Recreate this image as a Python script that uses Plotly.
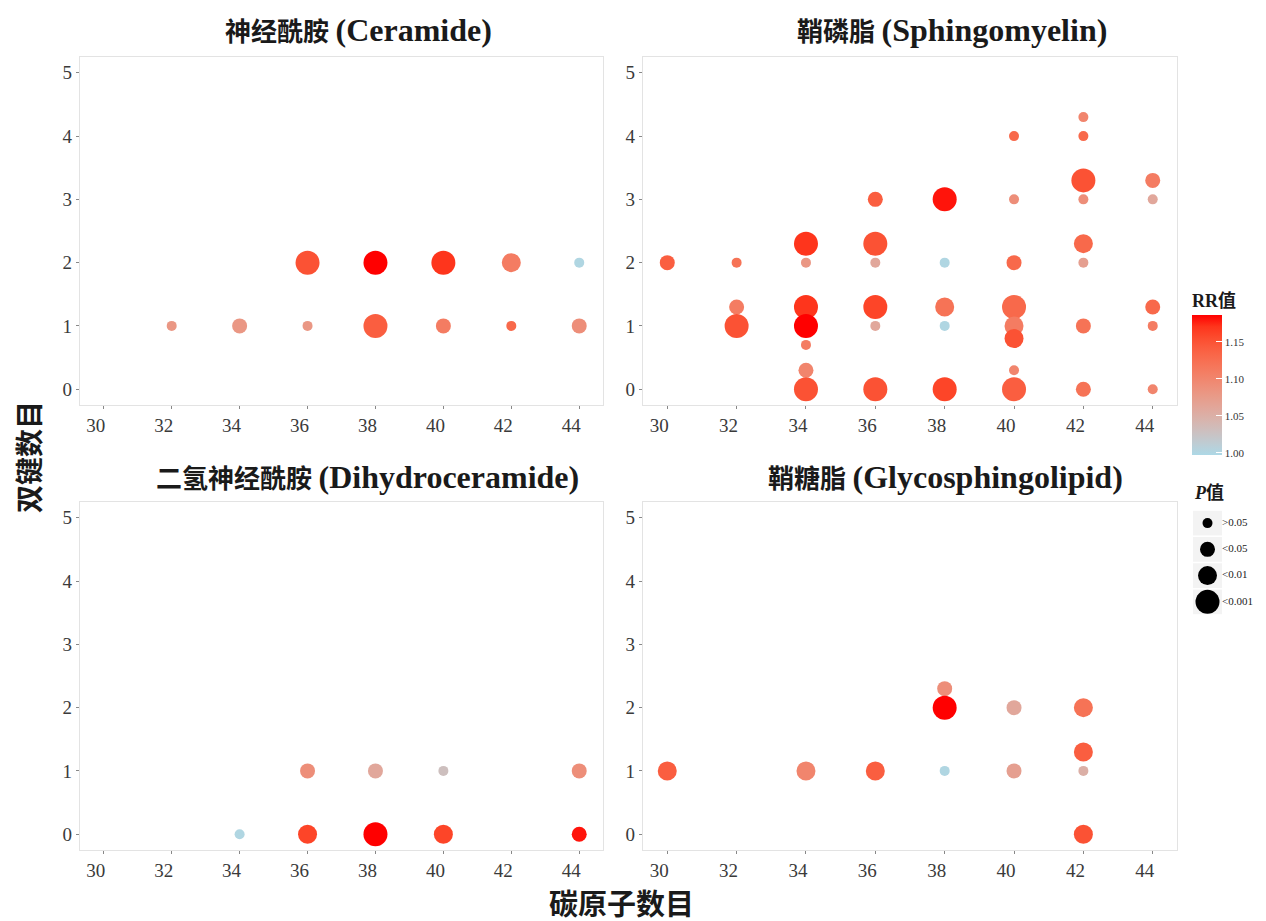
import numpy as np
import plotly.graph_objects as go

# ---------------- data ----------------
p_levels = [">0.05", "<0.05", "<0.01", "<0.001"]
p_sizes = [10, 15, 19, 24]

cer_c = [36, 38, 40, 42, 44, 32, 34, 36, 38, 40, 42, 44]
cer_db = [2, 2, 2, 2, 2, 1, 1, 1, 1, 1, 1, 1]
cer_rr = [1.15, 1.186, 1.17, 1.11, 1.00, 1.08, 1.08, 1.08, 1.14, 1.11, 1.13, 1.09]
cer_p = ["<0.001", "<0.001", "<0.001", "<0.01", ">0.05", ">0.05", "<0.05", ">0.05", "<0.001", "<0.05", ">0.05", "<0.05"]

sm_c = [30, 32, 32, 32, 34, 34, 34, 34, 34, 34, 34,
        36, 36, 36, 36, 36, 36, 38, 38, 38, 38, 38,
        40, 40, 40, 40, 40, 40, 40, 40,
        42, 42, 42, 42, 42, 42, 42, 42,
        44, 44, 44, 44, 44]
sm_db = [2, 2, 1.3, 1, 2.3, 2, 1.3, 1, 0.7, 0.3, 0,
         3, 2.3, 2, 1.3, 1, 0, 3, 2, 1.3, 1, 0,
         4, 3, 2, 1.3, 1, 0.8, 0.3, 0,
         4.3, 4, 3.3, 3, 2.3, 2, 1, 0,
         3.3, 3, 1.3, 1, 0]
sm_rr = [1.14, 1.12, 1.11, 1.15, 1.17, 1.08, 1.17, 1.186, 1.11, 1.10, 1.15,
         1.14, 1.15, 1.06, 1.16, 1.06, 1.15, 1.18, 1.00, 1.12, 1.00, 1.16,
         1.13, 1.09, 1.13, 1.13, 1.11, 1.15, 1.10, 1.14,
         1.10, 1.13, 1.15, 1.09, 1.13, 1.07, 1.12, 1.12,
         1.11, 1.06, 1.13, 1.11, 1.10]
sm_p = ["<0.05", ">0.05", "<0.05", "<0.001", "<0.001", ">0.05", "<0.001", "<0.001", ">0.05", "<0.05", "<0.001",
        "<0.05", "<0.001", ">0.05", "<0.001", ">0.05", "<0.001", "<0.001", ">0.05", "<0.01", ">0.05", "<0.001",
        ">0.05", ">0.05", "<0.05", "<0.001", "<0.01", "<0.01", ">0.05", "<0.001",
        ">0.05", ">0.05", "<0.001", ">0.05", "<0.01", ">0.05", "<0.05", "<0.05",
        "<0.05", ">0.05", "<0.05", ">0.05", ">0.05"]

dh_c = [34, 36, 38, 40, 44, 36, 38, 40, 44]
dh_db = [0, 0, 0, 0, 0, 1, 1, 1, 1]
dh_rr = [1.00, 1.16, 1.186, 1.16, 1.18, 1.09, 1.06, 1.03, 1.09]
dh_p = [">0.05", "<0.01", "<0.001", "<0.01", "<0.05", "<0.05", "<0.05", ">0.05", "<0.05"]

gs_c = [30, 34, 36, 38, 38, 38, 40, 40, 42, 42, 42, 42]
gs_db = [1, 1, 1, 1, 2.3, 2, 2, 1, 2, 1.3, 1, 0]
gs_rr = [1.14, 1.10, 1.14, 1.00, 1.09, 1.186, 1.06, 1.07, 1.12, 1.14, 1.05, 1.15]
gs_p = ["<0.01", "<0.01", "<0.01", ">0.05", "<0.05", "<0.001", "<0.05", "<0.05", "<0.01", "<0.01", ">0.05", "<0.01"]

titles_cn = ["神经酰胺", "鞘磷脂", "二氢神经酰胺", "鞘糖脂"]
titles_en = ["(Ceramide)", "(Sphingomyelin)", "(Dihydroceramide)", "(Glycosphingolipid)"]
x_ticks = [30, 32, 34, 36, 38, 40, 42, 44]
y_ticks = [0, 1, 2, 3, 4, 5]
rr_ticks = [1.00, 1.05, 1.10, 1.15]

# ---------------- colour scale (Lab interpolation lightblue -> red) ----------------
def _lin(c):
    c = c / 255.0
    return np.where(c <= 0.04045, c / 12.92, ((c + 0.055) / 1.055) ** 2.4)

def _gam(c):
    c = np.clip(c, 0, 1)
    return np.where(c <= 0.0031308, 12.92 * c, 1.055 * c ** (1 / 2.4) - 0.055) * 255

M = np.array([[0.4124, 0.3576, 0.1805], [0.2126, 0.7152, 0.0722], [0.0193, 0.1192, 0.9505]])
WP = np.array([0.95047, 1.0, 1.08883])

def rgb2lab(rgb):
    xyz = M @ _lin(np.array(rgb, float)) / WP
    f = np.where(xyz > 0.008856, np.cbrt(xyz), 7.787 * xyz + 16 / 116)
    return np.array([116 * f[1] - 16, 500 * (f[0] - f[1]), 200 * (f[1] - f[2])])

def lab2rgb(lab):
    fy_ = (lab[0] + 16) / 116
    f = np.array([fy_ + lab[1] / 500, fy_, fy_ - lab[2] / 200])
    xyz = np.where(f ** 3 > 0.008856, f ** 3, (f - 16 / 116) / 7.787) * WP
    return _gam(np.linalg.solve(M, xyz))

lab_lo, lab_hi = rgb2lab([173, 216, 230]), rgb2lab([255, 0, 0])
colorscale = []
for t in np.linspace(0, 1, 13):
    r, g, b = lab2rgb(lab_lo + (lab_hi - lab_lo) * t)
    colorscale.append([float(t), f"rgb({int(round(r))},{int(round(g))},{int(round(b))})"])

all_rr = cer_rr + sm_rr + dh_rr + gs_rr
cmin, cmax = min(all_rr) - 0.003, max(all_rr)

# ---------------- layout geometry ----------------
W, H = 1266, 921
def fx(p): return p / W
def fy(p): return 1 - p / H

x_doms = [[fx(80), fx(603)], [fx(643), fx(1177)]]
y_doms = [[fy(405), fy(57)], [fy(850), fy(502)]]
title_y = [30, 477]
title_x = [358, 952, 367, 945]

SERIF = "Liberation Serif, 'Noto Sans CJK SC', serif"
size_map = dict(zip(p_levels, p_sizes))

fig = go.Figure()
panels = [(cer_c, cer_db, cer_rr, cer_p), (sm_c, sm_db, sm_rr, sm_p),
          (dh_c, dh_db, dh_rr, dh_p), (gs_c, gs_db, gs_rr, gs_p)]

layout_axes = {}
for i, (c, db, rr, pv) in enumerate(panels):
    row, col = divmod(i, 2)
    n = "" if i == 0 else str(i + 1)
    fig.add_trace(go.Scatter(
        x=c, y=db, mode="markers", xaxis="x" + n, yaxis="y" + n,
        marker=dict(size=[size_map[p] for p in pv], color=rr, coloraxis="coloraxis",
                    line=dict(width=0), opacity=1),
        showlegend=False, hoverinfo="x+y"))
    common = dict(showgrid=False, zeroline=False, showline=True, mirror=True,
                  linecolor="#e3e3e3", linewidth=1.2, ticks="outside", ticklen=3,
                  tickcolor="#888", tickwidth=1,
                  tickfont=dict(family=SERIF, size=19, color="#3a3a3a"))
    layout_axes["xaxis" + n] = dict(common, domain=x_doms[col], range=[29.3, 44.7],
                                    tickvals=x_ticks, anchor="y" + n, ticklabelshift=-8)
    layout_axes["yaxis" + n] = dict(common, domain=y_doms[row], range=[-0.25, 5.25],
                                    tickvals=y_ticks, anchor="x" + n)
    fig.add_annotation(
        text=f"<b>{titles_cn[i]} <span style='font-size:32px'>{titles_en[i]}</span></b>",
        xref="paper", yref="paper", x=fx(title_x[i]), y=fy(title_y[row]),
        xanchor="center", yanchor="middle", showarrow=False,
        font=dict(family=SERIF, size=26, color="#1a1a1a"))

# size legend on its own hidden axes
leg_y = list(range(len(p_levels)))
fig.add_trace(go.Scatter(
    x=[0] * len(p_levels), y=leg_y, mode="markers", xaxis="x5", yaxis="y5",
    marker=dict(size=p_sizes, color="#000000", opacity=1, line=dict(width=0)),
    showlegend=False, hoverinfo="skip", cliponaxis=False))
fig.add_trace(go.Scatter(
    x=[1] * len(p_levels), y=leg_y, mode="text", text=p_levels, textposition="middle right",
    xaxis="x5", yaxis="y5", textfont=dict(family=SERIF, size=11, color="#222"),
    showlegend=False, hoverinfo="skip", cliponaxis=False))
for k in leg_y:
    fig.add_shape(type="rect", xref="x5", yref="y5", x0=-1, x1=1, y0=k - 0.47, y1=k + 0.47,
                  fillcolor="#f3f3f3", line=dict(width=0), layer="below")
layout_axes["xaxis5"] = dict(domain=[fx(1193), fx(1222)], range=[-1, 1], visible=False,
                             anchor="y5", fixedrange=True)
layout_axes["yaxis5"] = dict(domain=[fy(615), fy(510)], range=[3.5, -0.5], visible=False,
                             anchor="x5", fixedrange=True)

fig.add_annotation(text="<b><i>P</i>值</b>", xref="paper", yref="paper", x=fx(1192), y=fy(493),
                   xanchor="left", yanchor="middle", showarrow=False,
                   font=dict(family=SERIF, size=18, color="#1a1a1a"))

# axis titles
fig.add_annotation(text="<b>碳原子数目</b>", xref="paper", yref="paper", x=fx(621), y=fy(905),
                   xanchor="center", yanchor="middle", showarrow=False,
                   font=dict(family=SERIF, size=29, color="#1a1a1a"))
fig.add_annotation(text="<b>双键数目</b>", xref="paper", yref="paper", x=fx(30), y=fy(457),
                   xanchor="center", yanchor="middle", showarrow=False, textangle=-90,
                   font=dict(family=SERIF, size=28, color="#1a1a1a"))

fig.update_layout(
    width=W, height=H, margin=dict(l=0, r=0, t=0, b=0),
    paper_bgcolor="white", plot_bgcolor="white",
    coloraxis=dict(
        colorscale=colorscale, cmin=cmin, cmax=cmax,
        colorbar=dict(
            title=dict(text="<b>RR值</b>", side="top", font=dict(family=SERIF, size=18, color="#1a1a1a")),
            x=fx(1192), xanchor="left", y=fy(290), yanchor="top",
            lenmode="pixels", len=165, thickness=30, thicknessmode="pixels",
            outlinewidth=0, tickvals=rr_ticks, tickformat=".2f",
            ticks="inside", ticklen=6, tickcolor="white",
            tickfont=dict(family=SERIF, size=11, color="#333"), xpad=0, ypad=0)),
    **layout_axes)

fig.write_html("out.html", config={"displayModeBar": False},
               post_script="document.body.style.margin='0px'; document.body.style.overflow='hidden';")
